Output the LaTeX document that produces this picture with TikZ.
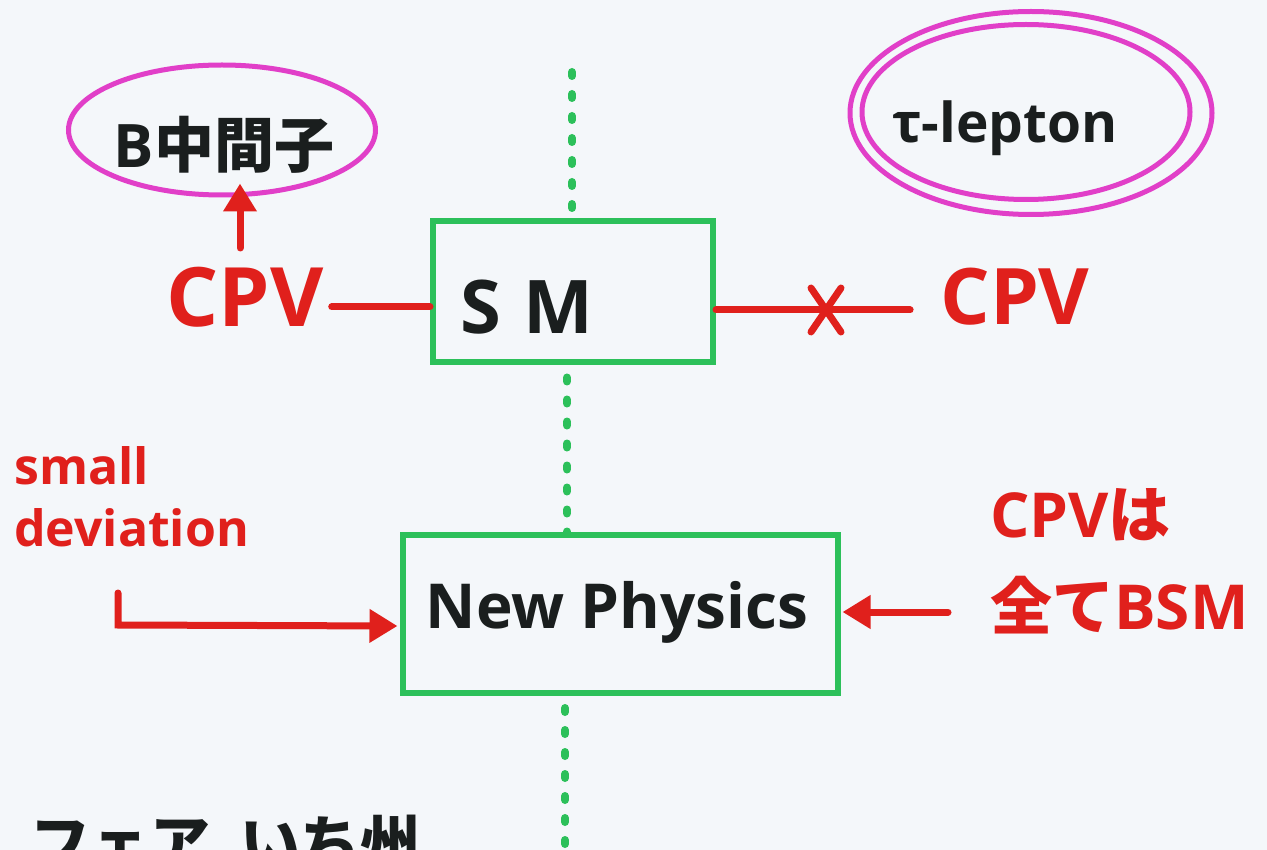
\documentclass[tikz,border=0pt]{standalone}
\usepackage{fontspec}
\setmainfont{Open Sans}
\newfontfamily\jp{Noto Sans CJK JP}
\usetikzlibrary{shapes.geometric,arrows.meta}
\definecolor{bg}{HTML}{F4F7FA}
\definecolor{mgreen}{HTML}{2CC05A}
\definecolor{mred}{HTML}{E0201C}
\definecolor{mpink}{HTML}{E13FC8}
\definecolor{mink}{HTML}{1A1E1E}
\begin{document}
\begin{tikzpicture}[x=1pt,y=-1pt,
  box/.style={draw=mgreen, line width=6pt, rectangle, inner sep=0pt},
  dotline/.style={draw=mgreen, line width=8pt, line cap=round, dash pattern=on 4pt off 18pt},
  redline/.style={draw=mred, line width=7pt, line cap=round},
  redarrow/.style={redline, -{Triangle[length=28pt,width=32pt]}},
  ring/.style={ellipse, draw=mpink, line width=5pt, inner sep=0pt},
  inktext/.style={text=mink, inner sep=0pt},
  redtext/.style={text=mred, inner sep=0pt},
]
\fill[bg] (0,0) rectangle (1267,850);
\useasboundingbox (0,0) rectangle (1267,850);
\clip (0,0) rectangle (1267,850);

% boxes
\node[box, minimum width=280pt, minimum height=141pt] (sm) at (573,292) {};
\node[inktext, font=\bfseries\fontsize{74}{80}\selectfont] (smt) at (527,307) {S\hspace{22pt}M};
\node[box, minimum width=435pt, minimum height=158pt] (np) at (620,614) {};
\node[inktext, font=\bfseries\fontsize{62}{70}\selectfont] (npt) at (617,612) {New Physics};

% dotted axis
\coordinate (axtop) at (572,72);
\coordinate (axmid) at (567,0);
\coordinate (axbot) at (565,850);
\draw[dotline] (axtop) -- (axtop |- sm.north);
\draw[dotline] (axmid |- sm.south) ++(0,12) -- (axmid |- np.north);
\draw[dotline] (axbot |- np.south) ++(0,12) -- (axbot);

% B meson
\node[ring, minimum width=307pt, minimum height=130pt] (bm) at (222,130) {};
\node[inktext, font=\bfseries\fontsize{60}{64}\selectfont] (bmt) at (224,145) {B{\jp\bfseries 中間子}};

% tau lepton
\node[ring, minimum width=362pt, minimum height=203pt] (tauo) at (1031,113) {};
\node[ring, minimum width=328pt, minimum height=175pt] (taui) at (1026,112) {};
\node[inktext, font=\bfseries\fontsize{55}{60}\selectfont] (taut) at (1005,128) {τ-lepton};

% CPV left
\node[redtext, font=\bfseries\fontsize{82}{86}\selectfont] (cpvl) at (245,297) {CPV};
\coordinate (aup) at (240,248);
\draw[redarrow] (aup) -- ([yshift=14pt]aup |- bm.south);
\draw[redline] ([xshift=8pt,yshift=-10pt]cpvl.east) -- ([yshift=-15pt]sm.west);

% CPV right
\node[redtext, font=\bfseries\fontsize{78}{86}\selectfont] (cpvr) at (1015,297) {CPV};
\coordinate (xmark) at (826,310);
\draw[redline] ([yshift=-18pt]sm.east) -- ([xshift=-30pt]cpvr.west |- xmark);
\draw[redline] ([xshift=-15pt,yshift=22pt]xmark) -- ([xshift=15pt,yshift=-22pt]xmark);
\draw[redline] ([xshift=15pt,yshift=22pt]xmark) -- ([xshift=-15pt,yshift=-22pt]xmark);

% small deviation
\node[redtext, font=\bfseries\fontsize{50}{62}\selectfont, align=left, anchor=north west] (sd) at (14,446) {small\\deviation};
\coordinate (sdstart) at (118,593);
\draw[redarrow] (sdstart) -- (118,625) -- ([xshift=-2pt,yshift=-12pt]np.west);

% CPV wa subete BSM
\node[redtext, font=\bfseries\fontsize{62}{92}\selectfont, align=left, anchor=north west] (bsm) at (990,488) {CPV{\jp\bfseries は}\\{\jp\bfseries 全て}BSM};
\coordinate (bsmstart) at (948,612);
\draw[redarrow] (bsmstart) -- ([xshift=2pt]np.east |- bsmstart);

% bottom text (cut off at the lower edge, as in the reference)
\node[inktext, font=\jp\bfseries\fontsize{60}{64}\selectfont, anchor=north west] (bot) at (30,815) {フェア\hspace{30pt}いち州};
\end{tikzpicture}
\end{document}
